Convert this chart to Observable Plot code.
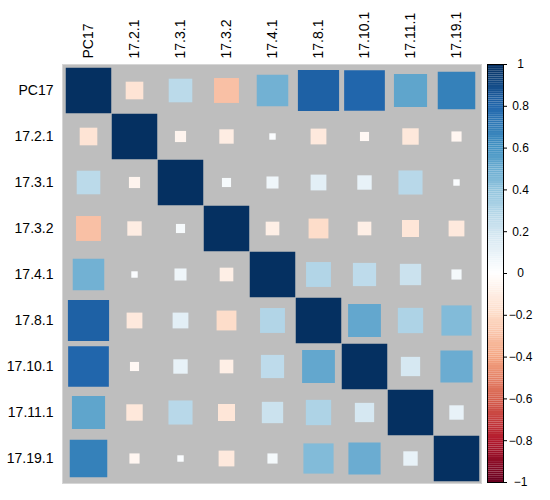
<!DOCTYPE html>
<html>
<head>
<meta charset="utf-8">
<script src="https://cdn.jsdelivr.net/npm/d3@7"></script>
<script src="https://cdn.jsdelivr.net/npm/@observablehq/plot@0.6"></script>
<style>
  body { margin: 0; background: #fff; }
  #wrap { position: relative; width: 550px; height: 500px; }
  #wrap svg { position: absolute; top: 0; overflow: visible; }
</style>
</head>
<body>
<div id="wrap"></div>
<script>
const vars = ["PC17", "17.2.1", "17.3.1", "17.3.2", "17.4.1", "17.8.1", "17.10.1", "17.11.1", "17.19.1"];
const rowPC17   = [1, -0.15, 0.27, -0.30, 0.48, 0.82, 0.80, 0.53, 0.68];
const row17_2_1 = [-0.15, 1, -0.06, -0.10, 0.02, -0.12, -0.04, -0.13, -0.05];
const row17_3_1 = [0.27, -0.06, 1, 0.04, 0.07, 0.12, 0.10, 0.28, 0.02];
const row17_3_2 = [-0.30, -0.10, 0.04, 1, -0.09, -0.19, -0.09, -0.14, -0.12];
const row17_4_1 = [0.48, 0.02, 0.07, -0.09, 1, 0.30, 0.26, 0.22, 0.05];
const row17_8_1 = [0.82, -0.12, 0.12, -0.19, 0.30, 1, 0.52, 0.31, 0.44];
const row17_10_1 = [0.80, -0.04, 0.10, -0.09, 0.26, 0.52, 1, 0.18, 0.50];
const row17_11_1 = [0.53, -0.13, 0.28, -0.14, 0.22, 0.31, 0.18, 1, 0.10];
const row17_19_1 = [0.68, -0.05, 0.02, -0.12, 0.05, 0.44, 0.50, 0.10, 1];
const matrixRows = [rowPC17, row17_2_1, row17_3_1, row17_3_2, row17_4_1, row17_8_1, row17_10_1, row17_11_1, row17_19_1];

const legendTicks = [-1, -0.8, -0.6, -0.4, -0.2, 0, 0.2, 0.4, 0.6, 0.8, 1];
const paletteStops = ["#67001F", "#B2182B", "#D6604D", "#F4A582", "#FDDBC7", "#FFFFFF",
                      "#D1E5F0", "#92C5DE", "#4393C3", "#2166AC", "#053061"];

const cells = [];
matrixRows.forEach((vals, i) => vals.forEach((v, j) => cells.push({row: vars[i], col: vars[j], value: v})));

const colorScale = {type: "linear", domain: legendTicks, range: paletteStops, interpolate: "rgb"};
const font = "'Liberation Sans', Arial, sans-serif";

const main = Plot.plot({
  width: 550, height: 500,
  marginLeft: 62, marginRight: 69, marginTop: 64, marginBottom: 17,
  style: {fontFamily: font, fontSize: "14px", color: "#000", background: "transparent"},
  x: {type: "band", domain: vars, padding: 0},
  y: {type: "band", domain: vars, padding: 0},
  r: {type: "sqrt", domain: [0, 1], range: [0, 45.5 / Math.sqrt(Math.PI)]},
  color: colorScale,
  marks: [
    Plot.frame({fill: "#BEBEBE", stroke: "#d6d6d6"}),
    Plot.dot(cells, {x: "col", y: "row", r: d => Math.abs(d.value), fill: "value", symbol: "square"}),
    Plot.axisX({anchor: "top", tickSize: 0, tickPadding: 6, tickRotate: -90, label: null, fontSize: 14}),
    Plot.axisY({anchor: "left", tickSize: 0, tickPadding: 9, label: null, fontSize: 14})
  ]
});

const bins = d3.range(-1, 1, 0.01).map(v => ({lo: v, hi: v + 0.01}));
const fmt = d => String(+d.toFixed(1)).replace("-", "\u2212");
const bar = Plot.plot({
  width: 70, height: 500,
  marginLeft: 7, marginRight: 47, marginTop: 64, marginBottom: 18,
  style: {fontFamily: font, fontSize: "12px", color: "#000", background: "transparent"},
  y: {domain: [-1, 1]},
  color: colorScale,
  marks: [
    Plot.rect(bins, {y1: "lo", y2: "hi", fill: d => (d.lo + d.hi) / 2}),
    Plot.frame({stroke: "#000"}),
    Plot.axisY(legendTicks, {anchor: "right", tickSize: 3, tickPadding: 14, textAnchor: "middle", tickFormat: fmt, label: null, fontSize: 12})
  ]
});
bar.style.left = "480px";

const wrap = document.getElementById("wrap");
wrap.appendChild(main);
wrap.appendChild(bar);
</script>
</body>
</html>
